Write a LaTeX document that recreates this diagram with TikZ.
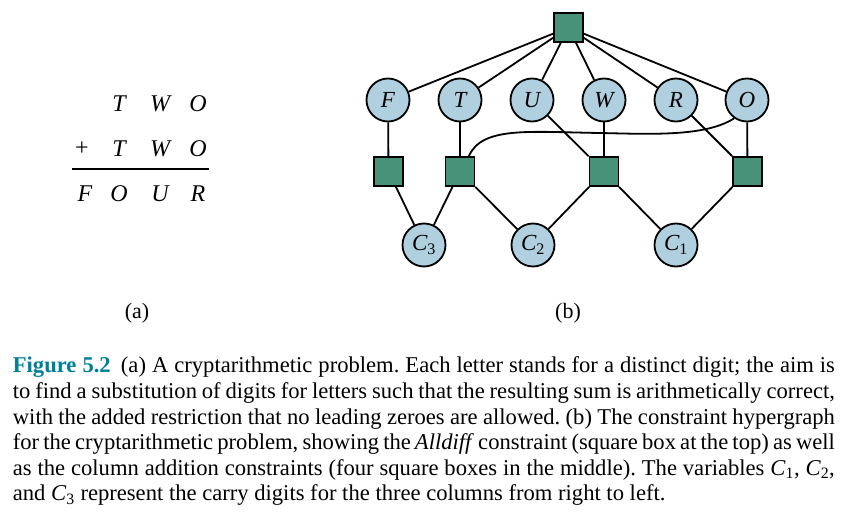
\documentclass[tikz,border=0pt]{standalone}
\usepackage{fontspec}
\setmainfont{Liberation Serif}
\usepackage{tikz}

\definecolor{varblue}{RGB}{176,208,224}
\definecolor{consgreen}{RGB}{72,146,122}
\definecolor{figteal}{RGB}{0,128,150}

\begin{document}
\begin{tikzpicture}[x=1pt,y=-1pt,line width=1.8pt,
                    var node/.style={circle,draw,fill=varblue,minimum size=43pt,inner sep=0pt,
                                     font=\fontsize{23}{23}\selectfont\itshape},
                    cons node/.style={rectangle,draw,fill=consgreen,minimum size=29pt,inner sep=0pt},
                    letter/.style={font=\fontsize{24}{24}\selectfont\itshape}]
  \useasboundingbox (0,0) rectangle (854,516);

  % (a) the sum
  \node[letter] (t1) at (119,104) {T};
  \node[letter] (w1) at (160,104) {W};
  \node[letter] (o1) at (198,104) {O};
  \node[font=\fontsize{24}{24}\selectfont] (plus) at (82,149) {+};
  \node[letter] (t2) at (119,149) {T};
  \node[letter] (w2) at (160,149) {W};
  \node[letter] (o2) at (198,149) {O};
  \coordinate (barl) at (72,169);
  \coordinate (barr) at (209,169);
  \draw (barl) -- (barr);
  \node[letter] (f3) at (85,194) {F};
  \node[letter] (o3) at (119,194) {O};
  \node[letter] (u3) at (160,194) {U};
  \node[letter] (r3) at (198,194) {R};

  % (b) the hypergraph
  \node[cons node] (all) at (568.5,27.5) {};

  \node[var node] (F) at (388,100) {F};
  \node[var node] (T) at (460,100) {T};
  \node[var node] (U) at (532,100) {U};
  \node[var node] (W) at (604,100) {W};
  \node[var node] (R) at (676,100) {R};
  \node[var node] (O) at (747,100) {O};

  \node[cons node] (c4) at (388.5,171.5) {};
  \node[cons node] (c3) at (460,171.5) {};
  \node[cons node] (c2) at (604,171.5) {};
  \node[cons node] (c1) at (747.5,171.5) {};

  \node[var node] (C3) at (424,245) {C\textsubscript{\upshape 3}};
  \node[var node] (C2) at (533,245) {C\textsubscript{\upshape 2}};
  \node[var node] (C1) at (676,245) {C\textsubscript{\upshape 1}};

  \path (all) edge (F) edge (T) edge (U) edge (W) edge (R) edge (O)
        (F) edge (c4)
        (T) edge (c3)
        (U) edge (c2)
        (W) edge (c2)
        (R) edge (c1)
        (O) edge (c1)
        (c4) edge (C3)
        (c3) edge (C3) edge (C2)
        (c2) edge (C2) edge (C1)
        (c1) edge (C1);
  \draw (O.235) .. controls (705,137) and (650,134) .. (600,133)
        .. controls (530,132) and (482,126) .. (c3.60);

  \node[font=\fontsize{22}{22}\selectfont] (la) at (137,313) {(a)};
  \node[font=\fontsize{22}{22}\selectfont] (lb) at (568,313) {(b)};

  % caption
  \node[anchor=north west,text width=822pt,align=justify,inner sep=0pt,
        font=\fontsize{22.6}{25.6}\selectfont\frenchspacing] (cap) at (12,356)
    {\textcolor{figteal}{\textbf{Figure 5.2}}\hspace{0.45em}(a) A cryptarithmetic problem. Each letter stands for a distinct digit; the aim is\linebreak
     to find a substitution of digits for letters such that the resulting sum is arithmetically correct,\linebreak
     with the added restriction that no leading zeroes are allowed. (b) The constraint hypergraph\linebreak
     for the cryptarithmetic problem, showing the \textit{Alldiff} constraint (square box at the top) as well\linebreak
     as the column addition constraints (four square boxes in the middle). The variables \textit{C}\textsubscript{1}, \textit{C}\textsubscript{2},\linebreak
     and \textit{C}\textsubscript{3} represent the carry digits for the three columns from right to left.\par};
\end{tikzpicture}
\end{document}
